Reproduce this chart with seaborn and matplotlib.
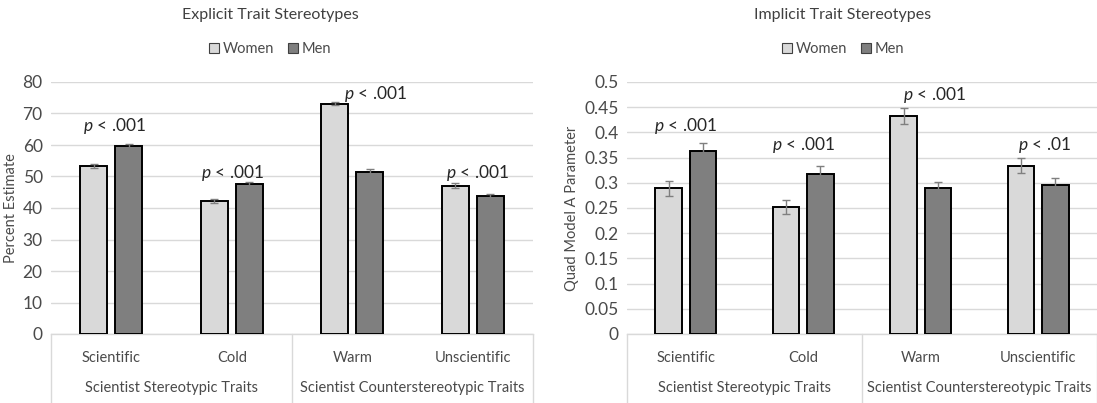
import matplotlib
matplotlib.use("Agg")
import matplotlib.pyplot as plt
import pandas as pd
import seaborn as sns
from matplotlib.patches import Patch

# ---- data -------------------------------------------------------------
traits = ["Scientific", "Cold", "Warm", "Unscientific"]
trait_groups = ["Scientist Stereotypic Traits", "Scientist Counterstereotypic Traits"]
genders = ["Women", "Men"]

explicit_women = [53.4, 42.3, 73.1, 47.0]
explicit_men = [59.6, 47.6, 51.5, 43.8]
explicit_women_se = [0.7, 0.7, 0.4, 0.8]
explicit_men_se = [0.8, 0.7, 0.9, 0.6]
explicit_p = ["< .001", "< .001", "< .001", "< .001"]

implicit_women = [0.289, 0.252, 0.433, 0.334]
implicit_men = [0.364, 0.318, 0.289, 0.295]
implicit_women_se = [0.015, 0.014, 0.016, 0.015]
implicit_men_se = [0.0155, 0.015, 0.012, 0.014]
implicit_p = ["< .001", "< .001", "< .001", "< .01"]

explicit_ticks = [0, 10, 20, 30, 40, 50, 60, 70, 80]
implicit_ticks = [0, 0.05, 0.1, 0.15, 0.2, 0.25, 0.3, 0.35, 0.4, 0.45, 0.5]
tick_text = {0.05: "0.05", 0.1: "0.1", 0.15: "0.15", 0.2: "0.2", 0.25: "0.25",
             0.3: "0.3", 0.35: "0.35", 0.4: "0.4", 0.45: "0.45", 0.5: "0.5"}

# ---- style ------------------------------------------------------------
sns.set_theme(style="white")
FONT = "Lato"
plt.rcParams["font.family"] = [FONT, "DejaVu Sans"]
plt.rcParams["mathtext.fontset"] = "custom"
plt.rcParams["mathtext.it"] = f"{FONT}:italic"
plt.rcParams["mathtext.rm"] = FONT

TXT = "#4a4a4a"
PTXT = "#262626"
GRID = "#d9d9d9"
palette = {"Women": "#d9d9d9", "Men": "#7f7f7f"}

fig = plt.figure(figsize=(10.97, 4.03), dpi=100)
ax_left = fig.add_axes([51 / 1097, 1 - 334 / 403, (533 - 51) / 1097, 252 / 403])
ax_right = fig.add_axes([627 / 1097, 1 - 334 / 403, (1097 - 627) / 1097, 252 / 403])


def long_frame(women, men, women_se, men_se):
    rows = []
    for g, vals, errs in (("Women", women, women_se), ("Men", men, men_se)):
        for t, v, e in zip(traits, vals, errs):
            rows.append({"trait": t, "gender": g, "value": v, "se": e})
    return pd.DataFrame(rows)


def draw_panel(ax, df, p_labels, ymax, ticks, ylabel, ylabel_x, title, title_x,
               label_dx, label_dy_pt, tick_fmt):
    sns.barplot(data=df, x="trait", y="value", hue="gender", order=traits,
                hue_order=genders, palette=palette, width=0.58, gap=0.224,
                edgecolor="black", linewidth=1.4, errorbar=None, legend=False,
                ax=ax, zorder=3)

    # error bars at the centres of the drawn bars
    bars = [p for p in ax.patches]
    tops = {}
    for gi, g in enumerate(genders):
        sub = df[df.gender == g].set_index("trait").loc[traits]
        for ti, t in enumerate(traits):
            bar = bars[gi * len(traits) + ti]
            cx = bar.get_x() + bar.get_width() / 2
            v, e = sub.loc[t, "value"], sub.loc[t, "se"]
            ax.errorbar(cx, v, yerr=e, fmt="none", ecolor="#7f7f7f",
                        elinewidth=1.0, capsize=3, capthick=1.0, zorder=4)
            tops[t] = max(tops.get(t, 0), v)

    ax.set_ylim(0, ymax)
    ax.set_xlim(-0.5, 3.5)
    ax.set_yticks(ticks)
    ax.set_yticklabels([tick_fmt(t) for t in ticks], color=TXT, fontsize=12.5)
    ax.tick_params(axis="y", length=0, pad=6)
    ax.tick_params(axis="x", length=0, pad=12, labelsize=10.5, labelcolor=TXT)
    ax.yaxis.grid(True, color=GRID, linewidth=1.0, zorder=0)
    ax.set_axisbelow(True)
    for s in ("top", "right", "left"):
        ax.spines[s].set_visible(False)
    ax.spines["bottom"].set_color(GRID)
    ax.spines["bottom"].set_linewidth(1.0)
    ax.set_xlabel("")
    ax.set_ylabel(ylabel, color=TXT, fontsize=10.5, va="center")
    ax.yaxis.set_label_coords(ylabel_x, 0.5)

    # category separators running below the axis
    for xb in (-0.5, 1.5, 3.5):
        ax.plot([xb, xb], [0, -0.28], transform=ax.get_xaxis_transform(),
                color=GRID, linewidth=1.0, clip_on=False, zorder=1)
    for gi, name in enumerate(trait_groups):
        ax.text(0.5 + 2 * gi, -0.215, name, transform=ax.get_xaxis_transform(),
                ha="center", va="center", color=TXT, fontsize=10.5)

    # significance labels
    for ti, t in enumerate(traits):
        ax.annotate(r"$\it{p}$" + " " + p_labels[ti], xy=(ti + label_dx[ti], tops[t]),
                    xytext=(0, label_dy_pt[ti]), textcoords="offset points",
                    ha="center", va="center", color=PTXT, fontsize=12.5, zorder=5)

    fig.text(title_x, 1 - 15 / 403, title, ha="center", va="center",
             color="#404040", fontsize=11.5)
    handles = [Patch(facecolor=palette[g], edgecolor="#404040", linewidth=0.8, label=g)
               for g in genders]
    fig.legend(handles=handles, loc="center", bbox_to_anchor=(title_x, 1 - 49 / 403),
               ncol=2, frameon=False, fontsize=10.5, handlelength=0.7,
               handleheight=0.7, handletextpad=0.2, columnspacing=1.0,
               labelcolor=TXT)


explicit_df = long_frame(explicit_women, explicit_men, explicit_women_se, explicit_men_se)
implicit_df = long_frame(implicit_women, implicit_men, implicit_women_se, implicit_men_se)

draw_panel(ax_left, explicit_df, explicit_p, 80, explicit_ticks, "Percent Estimate",
           (11 - 51) / 482, "Explicit Trait Stereotypes", 270 / 1097,
           [0.03, 0.01, 0.19, 0.04], [14.4, 8.3, 7.2, 9.4], lambda t: f"{t:g}")
draw_panel(ax_right, implicit_df, implicit_p, 0.5, implicit_ticks, "Quad Model A Parameter",
           (572 - 627) / 470, "Implicit Trait Stereotypes", 843 / 1097,
           [0.0, 0.0, 0.12, 0.05], [18, 20.9, 15.1, 15.1],
           lambda t: tick_text.get(t, "0"))

fig.savefig("out.png", dpi=100)
